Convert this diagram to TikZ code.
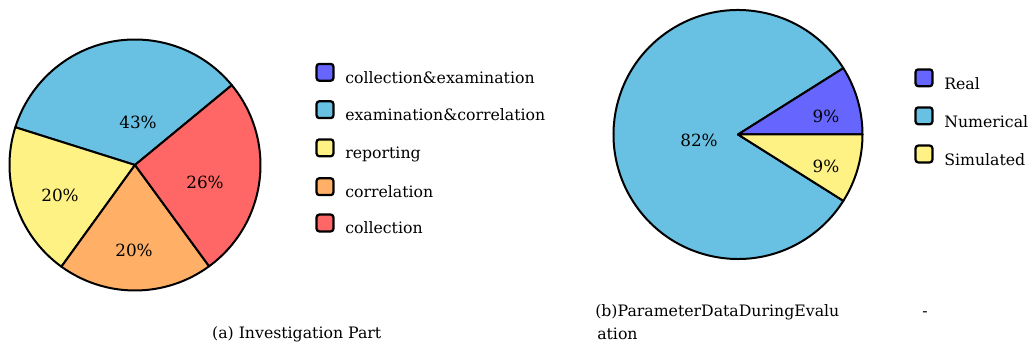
\documentclass[tikz,border=0pt]{standalone}
\usepackage{fontspec}
\setmainfont{DejaVu Serif}
\usetikzlibrary{positioning}
\definecolor{pieblue}{RGB}{104,192,226}
\definecolor{piered}{RGB}{255,102,102}
\definecolor{pieorange}{RGB}{255,176,102}
\definecolor{pieyellow}{RGB}{255,242,132}
\definecolor{piepurple}{RGB}{102,102,255}
\begin{document}
\begin{tikzpicture}[x=0.75pt,y=0.75pt,
  slice/.style={draw=black,line width=1.5pt,line join=round},
  pct/.style={font=\fontsize{12.6}{15}\selectfont,inner sep=0pt},
  key/.style={draw=black,line width=1.7pt,rounded corners=2pt,minimum size=12.6pt,inner sep=0pt},
  keytext/.style={anchor=base west,font=\fontsize{11.8}{14}\selectfont,inner sep=0pt}]
\useasboundingbox (0,0) rectangle (1029,343);
% % left pie
\coordinate (A) at (135,178);
\filldraw[slice,fill=pieblue] (A) -- ++(39.5:125.5) arc (39.5:162.5:125.5) -- cycle;
\filldraw[slice,fill=pieyellow] (A) -- ++(162.5:125.5) arc (162.5:234.1:125.5) -- cycle;
\filldraw[slice,fill=pieorange] (A) -- ++(234.1:125.5) arc (234.1:306.2:125.5) -- cycle;
\filldraw[slice,fill=piered] (A) -- ++(-53.8:125.5) arc (-53.8:39.5:125.5) -- cycle;
\node[pct] (pexcor) at (138,221) {43\%};
\node[pct] (pcoll) at (205,161) {26\%};
\node[pct] (prep) at (60,148) {20\%};
\node[pct] (pcorr) at (134,93) {20\%};
% legend
\node[key,fill=piepurple] (kcollex) at (325,270.7) {};
\node[key,fill=pieblue] (kexcor) at (325,233.3) {};
\node[key,fill=pieyellow] (krep) at (325,195.2) {};
\node[key,fill=pieorange] (kcorr) at (325,156.3) {};
\node[key,fill=piered] (kcoll) at (325,120) {};
\node[keytext] (tcollex) at (345,259.7) {collection\&examination};
\node[keytext] (texcor) at (345,222.3) {examination\&correlation};
\node[keytext] (trep) at (345,184.2) {reporting};
\node[keytext] (tcorr) at (345,145.3) {correlation};
\node[keytext] (tcoll) at (345,109) {collection};
\node[keytext,anchor=base] (capa) at (296.7,4.7) {(a) Investigation Part};
% % right pie
\coordinate (B) at (738,208.5);
\filldraw[slice,fill=pieblue] (B) -- ++(32.2:124.5) arc (32.2:327.8:124.5) -- cycle;
\filldraw[slice,fill=piepurple] (B) -- ++(0:124.5) arc (0:32.2:124.5) -- cycle;
\filldraw[slice,fill=pieyellow] (B) -- ++(-32.2:124.5) arc (-32.2:0:124.5) -- cycle;
\node[pct] (preal) at (826,226.3) {9\%};
\node[pct] (psim) at (826,176.3) {9\%};
\node[pct] (pnum) at (699,203) {82\%};
% legend
\node[key,fill=piepurple] (kreal) at (924,265.2) {};
\node[key,fill=pieblue] (knum) at (924,227.2) {};
\node[key,fill=pieyellow] (ksim) at (924,189) {};
\node[keytext] (treal) at (944,253.7) {Real};
\node[keytext] (tnum) at (944,215.7) {Numerical};
\node[keytext] (tsim) at (944,177.5) {Simulated};
\node[keytext] (capb) at (595,26.3) {(b)ParameterDataDuringEvalu};
\node[keytext,anchor=base] (capdash) at (925,26.3) {-};
\node[keytext] (capb2) at (597,3) {ation};
\end{tikzpicture}
\end{document}
